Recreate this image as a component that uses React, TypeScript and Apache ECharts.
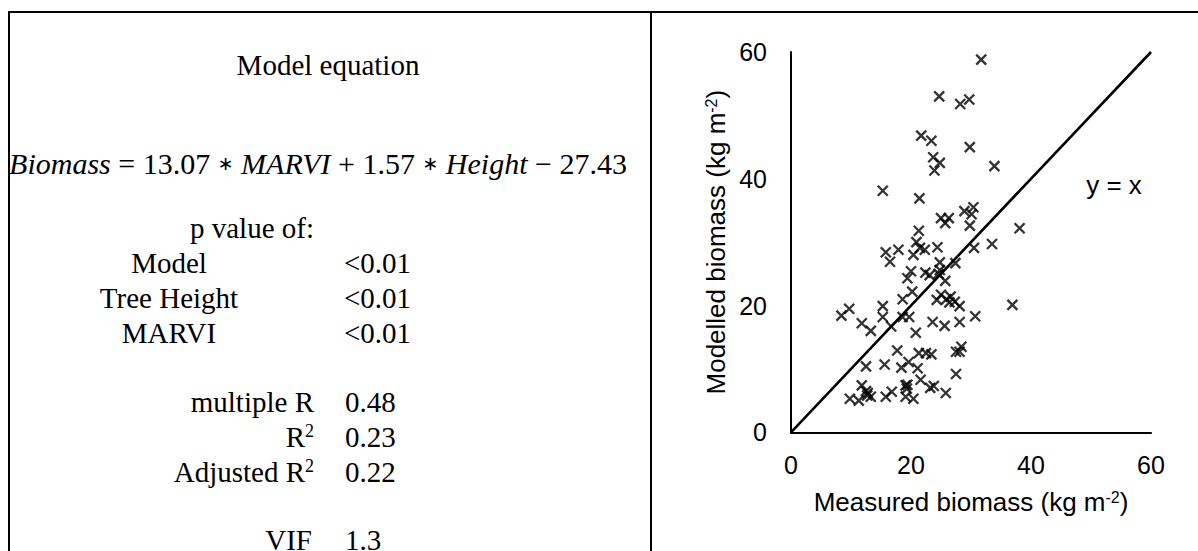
import React, { useEffect, useRef } from "react";
import * as echarts from "echarts";

// Measured vs modelled biomass (kg m-2) per plot
const measured = [
  31.7, 24.7, 28.2, 29.7, 21.7, 23.4, 29.8, 23.7, 24.8, 23.9, 33.9, 15.3, 21.4, 25.0, 26.3, 25.7,
  28.9, 30.4, 30.1, 29.8, 38.1, 21.3, 20.9, 21.5, 22.3, 24.4, 30.5, 33.5, 15.8, 17.9, 20.4,
  16.5, 24.8, 27.4, 24.8, 24.6, 22.4, 23.1, 20.0, 19.4, 25.7, 20.2, 18.6, 24.3, 25.0, 25.9, 26.6,
  26.4, 27.3, 28.1, 36.9, 15.3, 9.7, 8.4, 15.3, 18.6, 19.7, 30.7, 11.8, 13.3, 16.7, 23.6, 25.6,
  28.1, 20.8,
  17.7, 21.3, 22.5, 23.4, 27.5, 28.4, 28.1, 19.6, 12.5, 15.6, 18.4, 21.1, 27.5, 21.6, 11.8, 12.5,
  12.8, 12.7, 13.3, 19.1, 19.4, 19.3, 23.2, 23.8, 25.8, 16.8, 15.8, 9.8, 11.3, 19.1, 20.4,
];
const modelled = [
  58.8, 53.0, 51.8, 52.5, 46.8, 46.0, 45.0, 43.4, 42.5, 41.3, 42.0, 38.1, 36.9, 33.8, 33.8, 33.0,
  34.9, 35.5, 34.4, 32.6, 32.2, 31.8, 30.0, 29.1, 28.8, 29.2, 29.1, 29.7, 28.4, 28.8, 28.0,
  26.9, 26.8, 26.7, 25.6, 25.0, 25.2, 24.8, 25.4, 24.3, 23.9, 22.2, 21.0, 20.9, 21.7, 21.0, 21.4,
  20.5, 20.6, 19.9, 20.1, 19.9, 19.5, 18.4, 18.2, 18.2, 18.2, 18.3, 17.2, 16.0, 16.7, 17.4, 16.8,
  17.4, 15.7,
  12.9, 12.5, 12.5, 12.3, 12.7, 13.5, 12.7, 11.1, 10.4, 10.7, 10.2, 10.1, 9.2, 8.3, 7.4, 6.5,
  6.2, 5.8, 5.6, 7.4, 7.5, 6.9, 7.0, 7.3, 6.2, 6.4, 5.6, 5.3, 5.0, 5.6, 5.3,
];

// 1:1 reference line
const identityLine = [
  [0, 0],
  [60, 60],
];

const axisMin = 0;
const axisMax = 60;
const axisStep = 20;

// Regression summary
const equationText =
  "{i|Biomass} = 13.07 {op|\u2217} {i|MARVI} + 1.57 {op|\u2217} {i|Height} \u2212 27.43";
const pLabels = ["Model", "Tree Height", "MARVI"];
const pValues = ["<0.01", "<0.01", "<0.01"];
const fitLabels = ["multiple R", "R{sup|2}", "Adjusted R{sup|2}"];
const fitValues = ["0.48", "0.23", "0.22"];
const vifLabel = "VIF";
const vifValue = "1.3";

const serif = '"Liberation Serif", "Times New Roman", Times, serif';
const sans = '"Liberation Sans", Arial, Helvetica, sans-serif';
const serifSize = 29;

function serifText(text: string, x: number, y: number, align: string, size = serifSize) {
  return {
    type: "text",
    x,
    y,
    silent: true,
    style: {
      text,
      fill: "#000",
      fontFamily: serif,
      fontSize: size,
      align,
      verticalAlign: "middle",
      rich: {
        sup: { fontFamily: serif, fontSize: 18, fill: "#000", verticalAlign: "top" },
        i: { fontFamily: serif, fontSize: size, fontStyle: "italic", fill: "#000" },
        op: { fontFamily: '"DejaVu Sans", sans-serif', fontSize: 19, fill: "#000" },
      },
    },
  };
}

export default function App() {
  const ref = useRef<HTMLDivElement>(null);

  useEffect(() => {
    if (!ref.current) return;
    const chart = echarts.init(ref.current, null, { renderer: "svg" });

    const points = measured.map((m, i) => [m, modelled[i]]);

    const graphics: any[] = [];
    // panel frame
    const frame = { stroke: "#000", lineWidth: 2 };
    graphics.push({ type: "line", silent: true, shape: { x1: 9, y1: 12, x2: 1198, y2: 12 }, style: frame });
    graphics.push({ type: "line", silent: true, shape: { x1: 9, y1: 11, x2: 9, y2: 551 }, style: frame });
    graphics.push({ type: "line", silent: true, shape: { x1: 651, y1: 11, x2: 651, y2: 551 }, style: frame });

    graphics.push(serifText("Model equation", 328, 65, "center"));
    graphics.push(serifText(equationText, 318, 163, "center", 30));
    graphics.push(serifText("p value of:", 314, 228, "right"));
    const rowGap = 34.8;
    pLabels.forEach((lab, i) => {
      graphics.push(serifText(lab, 169, 263 + i * rowGap, "center"));
      graphics.push(serifText(pValues[i], 344, 263 + i * rowGap, "left"));
    });
    fitLabels.forEach((lab, i) => {
      graphics.push(serifText(lab, 314, 402 + i * rowGap, "right"));
      graphics.push(serifText(fitValues[i], 345, 402 + i * rowGap, "left"));
    });
    graphics.push(serifText(vifLabel, 312, 540, "right"));
    graphics.push(serifText(vifValue, 345, 540, "left"));

    // label of the 1:1 line
    graphics.push({
      type: "text",
      x: 1114,
      y: 185,
      silent: true,
      style: {
        text: "y = x",
        fill: "#000",
        fontFamily: sans,
        fontSize: 26,
        align: "center",
        verticalAlign: "middle",
      },
    });

    const supRich = {
      sup: { fontFamily: sans, fontSize: 16, color: "#000", verticalAlign: "top" },
    };

    const axisCommon = {
      type: "value",
      min: axisMin,
      max: axisMax,
      interval: axisStep,
      nameLocation: "middle",
      axisLine: { show: true, lineStyle: { color: "#000", width: 2 } },
      axisTick: { show: false },
      splitLine: { show: false },
      nameTextStyle: { fontFamily: sans, fontSize: 26, color: "#000", rich: supRich },
    };

    chart.setOption({
      animation: false,
      backgroundColor: "#fff",
      grid: { left: 791, right: 47, top: 52, bottom: 118.7, containLabel: false },
      xAxis: {
        ...axisCommon,
        name: "Measured biomass (kg m{sup|-2})",
        nameGap: 57,
        axisLabel: { fontFamily: sans, fontSize: 25, color: "#000", margin: 20 },
      },
      yAxis: {
        ...axisCommon,
        name: "Modelled biomass (kg m{sup|-2})",
        nameGap: 62,
        nameRotate: 90,
        axisLabel: { fontFamily: sans, fontSize: 25, color: "#000", margin: 24 },
      },
      series: [
        {
          type: "line",
          data: identityLine,
          symbol: "none",
          silent: true,
          lineStyle: { color: "#000", width: 2.6 },
          z: 2,
        },
        {
          type: "scatter",
          data: points,
          symbol: "path://M0,0L10,10M0,10L10,0",
          symbolSize: 10,
          itemStyle: { color: "transparent", borderColor: "#000", borderWidth: 2.3 },
          z: 3,
        },
      ],
      graphic: graphics,
    });

    return () => chart.dispose();
  }, []);

  return (
    <div
      ref={ref}
      style={{ position: "fixed", left: 0, top: 0, width: 1198, height: 551, background: "#fff" }}
    />
  );
}
